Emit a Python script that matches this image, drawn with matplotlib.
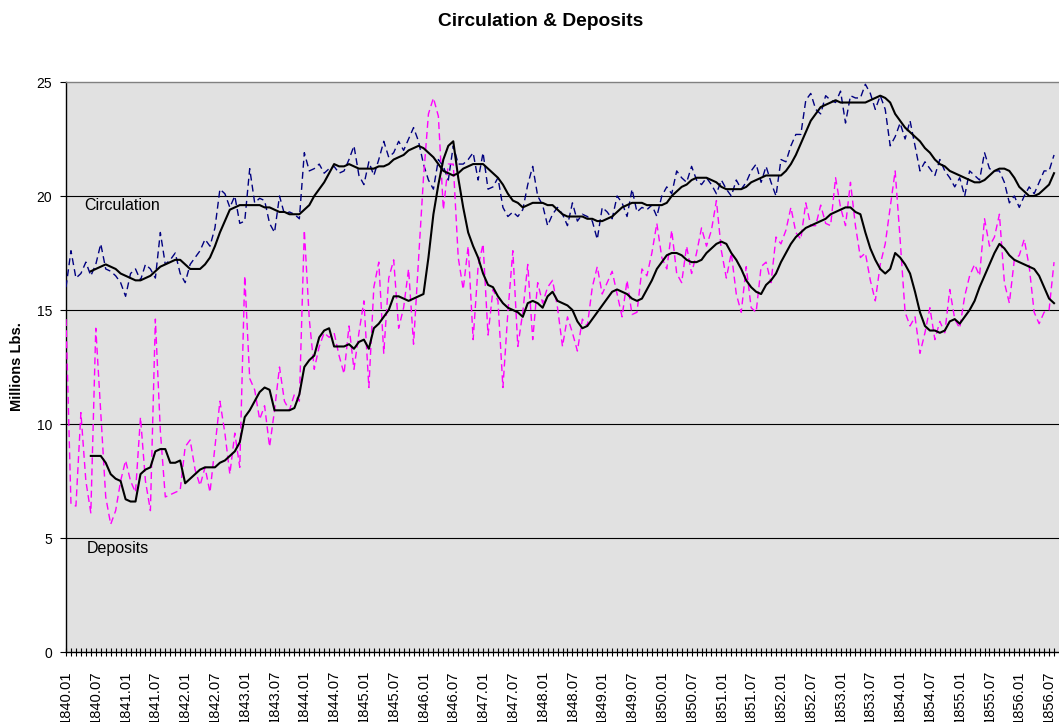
import numpy as np
import matplotlib
matplotlib.use("Agg")
import matplotlib.pyplot as plt

plt.rcParams['font.family'] = ['Liberation Sans', 'DejaVu Sans']

# monthly categories 1840.01 ... 1856.08
months = [f"{1840 + k // 12}.{k % 12 + 1:02d}" for k in range(200)]

circulation = [
    16.0, 17.6, 16.4, 16.6, 17.1, 16.5, 17.0, 17.9, 16.8, 16.7,
    16.5, 16.2, 15.6, 16.6, 16.8, 16.3, 17.0, 16.8, 16.4, 18.4,
    17.0, 17.2, 17.5, 16.6, 16.2, 17.0, 17.3, 17.6, 18.1, 17.8,
    18.6, 20.3, 20.1, 19.5, 20.0, 18.8, 18.9, 21.2, 19.7, 19.9,
    19.8, 18.8, 18.4, 20.0, 19.2, 19.3, 19.2, 19.0, 21.9, 21.1,
    21.2, 21.4, 21.0, 21.2, 21.3, 21.0, 21.1, 21.6, 22.2, 20.9,
    20.5, 21.5, 20.9, 21.6, 22.4, 21.7, 21.9, 22.4, 22.0, 22.5,
    23.0, 22.4, 21.4, 20.7, 20.3, 21.6, 21.3, 20.7, 22.2, 21.4,
    21.4, 21.6, 21.9, 20.7, 21.9, 20.3, 20.4, 20.8, 19.5, 19.1,
    19.3, 19.1, 19.4, 20.5, 21.3, 20.0, 19.6, 18.7, 19.2, 19.5,
    19.2, 18.7, 19.7, 18.9, 19.2, 19.1, 18.9, 18.1, 19.5, 19.3,
    19.0, 20.0, 19.7, 19.1, 20.3, 19.3, 19.5, 19.4, 19.6, 19.1,
    20.0, 20.4, 20.1, 21.1, 20.8, 20.6, 21.3, 20.7, 20.5, 20.8,
    20.5, 20.1, 20.7, 20.3, 20.0, 20.7, 20.3, 20.6, 21.1, 21.4,
    20.6, 21.3, 20.6, 20.0, 21.6, 21.5, 22.2, 22.7, 22.7, 24.2,
    24.5, 23.8, 23.6, 24.4, 24.2, 24.1, 24.6, 23.2, 24.4, 24.3,
    24.3, 24.9, 24.5, 23.8, 24.4, 23.8, 22.2, 22.6, 23.2, 22.5,
    23.3, 22.2, 21.1, 21.5, 21.2, 20.9, 21.6, 21.1, 20.8, 20.4,
    20.8, 20.0, 21.1, 20.9, 20.7, 21.9, 21.2, 21.1, 21.1, 20.6,
    19.7, 20.0, 19.5, 20.0, 20.4, 20.1, 20.6, 21.1, 21.1, 21.8,
]

deposits = [
    14.6, 6.5, 6.4, 10.5, 7.5, 6.1, 14.2, 10.5, 6.8, 5.6,
    6.2, 7.5, 8.4, 7.5, 7.0, 10.3, 7.5, 6.2, 14.6, 9.7,
    6.8, 6.9, 7.0, 7.1, 9.0, 9.3, 8.0, 7.3, 8.1, 7.0,
    9.0, 11.0, 9.6, 7.8, 9.6, 8.1, 16.5, 12.0, 11.5, 10.2,
    10.8, 9.0, 10.6, 12.5, 11.0, 10.6, 11.3, 11.0, 18.5, 14.6,
    12.4, 13.4, 14.0, 13.8, 14.0, 13.0, 12.2, 14.3, 12.4, 14.0,
    15.4, 11.6, 16.0, 17.1, 13.1, 16.4, 17.2, 14.2, 15.1, 16.8,
    13.5, 17.2, 20.8, 23.6, 24.3, 23.5, 19.4, 21.4, 21.4, 17.3,
    15.9, 17.8, 13.7, 16.9, 17.9, 13.9, 15.9, 15.4, 11.6, 14.9,
    17.6, 13.4, 14.9, 17.0, 13.7, 16.2, 15.3, 16.0, 16.3, 15.1,
    13.4, 14.7, 14.0, 13.2, 14.6, 14.3, 16.0, 16.9, 15.7, 16.2,
    16.7, 15.7, 14.7, 16.3, 14.8, 14.9, 16.8, 16.5, 17.5, 18.8,
    17.3, 16.8, 18.5, 16.6, 16.2, 17.8, 16.6, 17.5, 18.6, 17.8,
    18.5, 19.8, 17.6, 16.4, 17.5, 15.7, 14.9, 16.9, 15.1, 14.9,
    16.9, 17.1, 16.2, 18.2, 17.9, 18.5, 19.5, 18.4, 18.1, 19.7,
    18.7, 18.7, 19.6, 18.8, 18.7, 20.8, 19.5, 18.7, 20.6, 18.7,
    17.3, 17.5, 16.3, 15.4, 17.0, 17.9, 19.5, 21.1, 18.1, 14.9,
    14.3, 14.7, 13.1, 14.0, 15.1, 13.7, 14.5, 14.0, 15.9, 14.6,
    14.2, 15.6, 16.5, 17.0, 16.5, 19.0, 17.8, 18.2, 19.2, 16.2,
    15.3, 17.2, 17.4, 18.1, 16.9, 14.9, 14.4, 14.9, 15.0, 17.1,
]

circulation_avg = [
    None, None, None, None, None, 16.7, 16.8, 16.9, 17.0, 16.9,
    16.8, 16.6, 16.5, 16.4, 16.3, 16.3, 16.4, 16.5, 16.7, 16.9,
    17.0, 17.1, 17.2, 17.2, 17.0, 16.8, 16.8, 16.8, 17.0, 17.3,
    17.8, 18.4, 18.9, 19.4, 19.5, 19.6, 19.6, 19.6, 19.6, 19.6,
    19.5, 19.5, 19.4, 19.3, 19.3, 19.2, 19.2, 19.2, 19.4, 19.6,
    20.0, 20.3, 20.6, 21.0, 21.4, 21.3, 21.3, 21.4, 21.3, 21.2,
    21.2, 21.2, 21.2, 21.3, 21.3, 21.4, 21.6, 21.7, 21.8, 22.0,
    22.1, 22.2, 22.1, 21.9, 21.7, 21.4, 21.1, 21.0, 20.9, 21.0,
    21.2, 21.3, 21.4, 21.4, 21.4, 21.2, 21.0, 20.8, 20.5, 20.1,
    19.8, 19.7, 19.5, 19.6, 19.7, 19.7, 19.7, 19.6, 19.6, 19.4,
    19.2, 19.1, 19.1, 19.1, 19.1, 19.0, 19.0, 18.9, 18.9, 19.0,
    19.1, 19.3, 19.5, 19.6, 19.7, 19.7, 19.7, 19.6, 19.6, 19.6,
    19.6, 19.7, 20.0, 20.2, 20.4, 20.5, 20.7, 20.8, 20.8, 20.8,
    20.7, 20.6, 20.4, 20.3, 20.3, 20.3, 20.3, 20.4, 20.6, 20.7,
    20.8, 20.9, 20.9, 20.9, 20.9, 21.1, 21.4, 21.8, 22.3, 22.8,
    23.3, 23.6, 23.9, 24.0, 24.1, 24.2, 24.1, 24.1, 24.1, 24.1,
    24.1, 24.1, 24.2, 24.3, 24.4, 24.3, 24.1, 23.6, 23.3, 23.0,
    22.8, 22.6, 22.4, 22.1, 21.9, 21.6, 21.4, 21.3, 21.1, 21.0,
    20.9, 20.8, 20.7, 20.6, 20.6, 20.7, 20.9, 21.1, 21.2, 21.2,
    21.1, 20.8, 20.4, 20.2, 20.0, 20.0, 20.1, 20.3, 20.5, 21.0,
]

deposits_avg = [
    None, None, None, None, None, 8.6, 8.6, 8.6, 8.3, 7.8,
    7.6, 7.5, 6.7, 6.6, 6.6, 7.8, 8.0, 8.1, 8.8, 8.9,
    8.9, 8.3, 8.3, 8.4, 7.4, 7.6, 7.8, 8.0, 8.1, 8.1,
    8.1, 8.3, 8.4, 8.6, 8.8, 9.2, 10.3, 10.6, 11.0, 11.4,
    11.6, 11.5, 10.6, 10.6, 10.6, 10.6, 10.7, 11.3, 12.5, 12.8,
    13.0, 13.8, 14.1, 14.2, 13.4, 13.4, 13.4, 13.5, 13.3, 13.6,
    13.7, 13.3, 14.2, 14.4, 14.7, 15.0, 15.6, 15.6, 15.5, 15.4,
    15.5, 15.6, 15.7, 17.3, 19.2, 20.5, 21.6, 22.2, 22.4, 20.8,
    19.5, 18.4, 17.8, 17.3, 16.6, 16.1, 16.0, 15.6, 15.3, 15.1,
    15.0, 14.9, 14.7, 15.3, 15.4, 15.3, 15.1, 15.6, 15.8, 15.4,
    15.3, 15.2, 15.0, 14.5, 14.2, 14.3, 14.6, 14.9, 15.2, 15.5,
    15.8, 15.9, 15.8, 15.7, 15.5, 15.4, 15.5, 15.9, 16.3, 16.8,
    17.1, 17.4, 17.5, 17.5, 17.4, 17.2, 17.1, 17.1, 17.2, 17.5,
    17.7, 17.9, 18.0, 17.9, 17.5, 17.2, 16.8, 16.3, 16.0, 15.8,
    15.7, 16.1, 16.3, 16.6, 17.1, 17.5, 17.9, 18.2, 18.4, 18.6,
    18.7, 18.8, 18.9, 19.0, 19.2, 19.3, 19.4, 19.5, 19.5, 19.3,
    19.2, 18.4, 17.7, 17.2, 16.8, 16.6, 16.8, 17.5, 17.3, 17.0,
    16.6, 15.8, 14.9, 14.3, 14.1, 14.1, 14.0, 14.1, 14.5, 14.6,
    14.4, 14.7, 15.0, 15.4, 16.0, 16.5, 17.0, 17.5, 17.9, 17.7,
    17.4, 17.2, 17.1, 17.0, 16.9, 16.8, 16.5, 16.0, 15.5, 15.3,
]

y_ticks = [0, 5, 10, 15, 20, 25]
grid_values = [5, 10, 15, 20]

def arr(v):
    return np.array([np.nan if a is None else a for a in v], dtype=float)

x = np.arange(len(months))

fig = plt.figure(figsize=(10.59, 7.22), dpi=100)
ax = fig.add_axes([66 / 1059, 70 / 722, 993 / 1059, 570 / 722])
ax.set_facecolor('#E1E1E1')

for g in grid_values:
    ax.axhline(g, color='black', lw=0.8, zorder=1)

ax.plot(x, arr(circulation), color='#000080', lw=1.0, dashes=(5, 3), zorder=3)
ax.plot(x, arr(deposits), color='#FF00FF', lw=1.0, dashes=(5, 3), zorder=3)
ax.plot(x, arr(circulation_avg), color='black', lw=1.5, zorder=4)
ax.plot(x, arr(deposits_avg), color='black', lw=1.5, zorder=4)

ax.set_xlim(0, 200)
ax.set_ylim(0, 25)
ax.set_yticks(y_ticks)
ax.set_yticklabels([str(v) for v in y_ticks], fontsize=10)
ax.tick_params(axis='y', direction='out', length=4, width=0.8, pad=6)

ax.set_xticks(x[::6])
ax.set_xticklabels(months[::6], rotation=90, fontsize=10.6)
ax.set_xticks(x, minor=True)
ax.tick_params(axis='x', which='both', direction='inout', length=6, width=0.8, pad=10)

for s in ['left', 'bottom']:
    ax.spines[s].set_color('black')
    ax.spines[s].set_linewidth(1.0)
ax.spines['top'].set_color('#808080')
ax.spines['top'].set_linewidth(1.0)
ax.spines['right'].set_visible(False)

ax.text(3.6, 19.6, 'Circulation', fontsize=11.5, va='center', ha='left', zorder=5)
ax.text(4.2, 4.56, 'Deposits', fontsize=11.5, va='center', ha='left', zorder=5)

fig.text(541 / 1059, 1 - 21 / 722, 'Circulation & Deposits', ha='center', va='center',
         fontsize=13.8, fontweight='bold')
fig.text(17 / 1059, 1 - 367 / 722, 'Millions Lbs.', rotation=90, ha='center', va='center',
         fontsize=10.5, fontweight='bold')

fig.savefig('out.png', dpi=100)
